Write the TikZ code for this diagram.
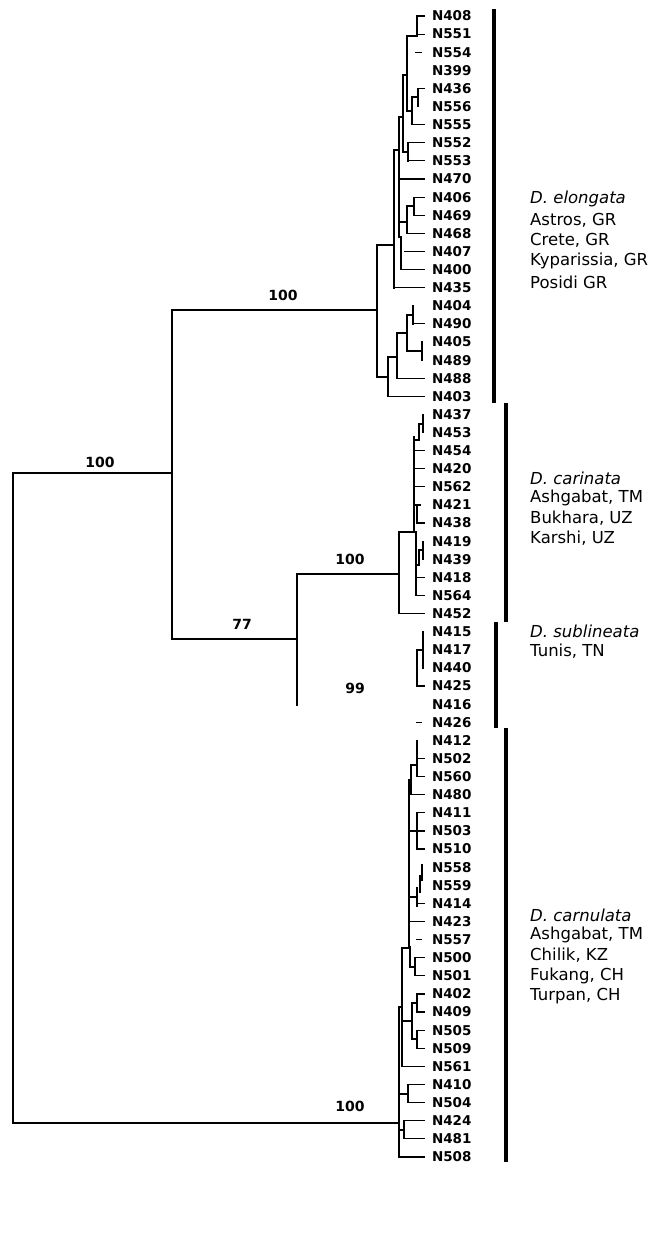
\documentclass[tikz,border=0pt]{standalone}
\usepackage{fontspec}
\setmainfont{DejaVu Sans}
\begin{document}
\begin{tikzpicture}[x=1pt,y=-1pt,
  br/.style={line width=1.2pt, line cap=rect},
  thk/.style={line width=2pt, line cap=rect},
  leaf/.style={anchor=west, inner xsep=8pt, inner ysep=0pt, outer sep=0pt, font=\bfseries\fontsize{13.5}{14}\selectfont},
  grp/.style={anchor=west, inner sep=0pt, font=\fontsize{16.5}{18}\selectfont},
  sup/.style={inner sep=0pt, font=\bfseries\fontsize{14}{16}\selectfont},
  bar/.style={line width=4.5pt}]
\useasboundingbox (0,0) rectangle (658,1236);
\fill[white] (0,0) rectangle (658,1236);
% leaves
\foreach \n [count=\i from 0] in {N408,N551,N554,N399,N436,N556,N555,N552,N553,N470,N406,N469,N468,N407,N400,N435,N404,N490,N405,N489,N488,N403,
 N437,N453,N454,N420,N562,N421,N438,N419,N439,N418,N564,N452,
 N415,N417,N440,N425,N416,N426,
 N412,N502,N560,N480,N411,N503,N510,N558,N559,N414,N423,N557,N500,N501,N402,N409,N505,N509,N561,N410,N504,N424,N481,N508}
  \node[leaf] (\n) at (424,{16+18.11*\i}) {\n};
\newcommand\tip[2]{\draw[br] (#2.west) -- ++(#1-424,0);}
% ---------- main backbone
\draw[br] (13,473) -- (13,1123);
\draw[br] (13,473) -- (172,473);
\draw[br] (172,310) -- (172,639);
\draw[br] (172,310) -- (377,310);
\draw[br] (172,639) -- (297,639);
\draw[br] (297,574) -- (297,705);
\draw[br] (297,574) -- (399,574);
\draw[br] (13,1123) -- (399,1123);
% ---------- D. elongata
\tip{417}{N408} \tip{417}{N551}
\draw[br] (417,16) -- (417,36) -- (407,36) -- (407,111) -- (412,111);
\draw[br] (416,52.2) -- (421,52.2);
\tip{418}{N436}
\draw[br] (418,88.4) -- (418,106.6);
\draw[br] (412,97) -- (418,97);
\draw[br] (412,97) -- (412,124.7);
\tip{412}{N555}
\draw[br] (403,75) -- (407,75);
\draw[br] (403,75) -- (403,152) -- (408,152);
\draw[br] (408,142.8) -- (408,160.9);
\tip{408}{N552} \tip{408}{N553}
\draw[br] (399,117) -- (403,117);
\draw[br] (399,117) -- (399,237);
\tip{399}{N470}
\draw[br] (414,197.1) -- (414,215.2);
\tip{414}{N406} \tip{414}{N469}
\draw[br] (407,206) -- (414,206);
\draw[br] (407,206) -- (407,233.3);
\tip{407}{N468}
\draw[br] (399,222) -- (407,222);
\draw[br] (399,237) -- (401,237) -- (401,269.5);
\tip{401}{N400}
\tip{405}{N407}
\draw[thk] (394,150) -- (394,287.7);
\draw[br] (394,150) -- (399,150);
\tip{394}{N435}
\draw[br] (377,245) -- (394,245);
\draw[br] (377,245) -- (377,377) -- (388,377);
\draw[br] (388,357) -- (388,396.3);
\tip{388}{N403}
\draw[br] (388,357) -- (397,357);
\draw[br] (397,333) -- (397,378.2);
\tip{397}{N488}
\draw[br] (397,333) -- (407,333);
\draw[br] (407,315) -- (407,351);
\draw[br] (407,315) -- (413,315);
\draw[br] (413,305.8) -- (413,323.9);
\tip{413}{N490}
\draw[br] (407,351) -- (422,351);
\draw[br] (422,342) -- (422,360.1);
% ---------- D. carinata
\draw[br] (423,414.4) -- (423,432.5);
\draw[br] (419,424) -- (423,424);
\draw[br] (419,424) -- (419,440) -- (414,440);
\draw[thk] (414,437) -- (414,532);
\tip{414}{N454} \tip{414}{N420} \tip{414}{N562}
\draw[br] (414,505) -- (420,505);
\draw[br] (417,507) -- (417,523.1);
\tip{417}{N438}
\draw[br] (399,532) -- (414,532);
\draw[br] (399,532) -- (399,613.6);
\tip{399}{N452}
\draw[br] (416,532) -- (416,595.5);
\tip{416}{N418} \tip{416}{N564}
\draw[br] (423,541.2) -- (423,559.3);
\draw[br] (419,550) -- (423,550);
\draw[br] (419,550) -- (419,565) -- (416,565);
% ---------- D. sublineata
\draw[br] (423,631.7) -- (423,668);
\draw[br] (417,649.9) -- (423,649.9);
\draw[br] (417,649.9) -- (417,686.1);
\tip{417}{N425}
\draw[br] (417,722.3) -- (421,722.3);
% ---------- D. carnulata
\draw[br] (417,740.4) -- (417,776.6);
\tip{417}{N502} \tip{417}{N560}
\draw[br] (411,765) -- (417,765);
\draw[br] (411,765) -- (411,794.7);
\tip{411}{N480}
\draw[br] (417,812.8) -- (417,849.1);
\tip{417}{N411} \tip{417}{N510}
\tip{409}{N503}
\draw[br] (409,780) -- (411,780);
\draw[thk] (409,780) -- (409,948);
\draw[br] (422,865) -- (422,880);
\draw[br] (420,876) -- (420,892);
\draw[br] (417,888) -- (417,906);
\tip{417}{N414}
\draw[br] (409,897) -- (417,897);
\tip{409}{N423}
\draw[br] (417,939.6) -- (421,939.6);
\draw[br] (415,957.7) -- (415,975.8);
\tip{415}{N500} \tip{415}{N501}
\draw[thk] (410,947) -- (410,967) -- (415,967);
\draw[br] (402,948) -- (410,948);
\draw[br] (402,948) -- (402,1066.4);
\tip{402}{N561}
\draw[br] (402,1021) -- (412,1021);
\draw[br] (412,1003) -- (412,1039);
\draw[br] (417,993.9) -- (417,1012.1);
\tip{417}{N402} \tip{417}{N409}
\draw[br] (412,1003) -- (417,1003);
\draw[br] (417,1030.2) -- (417,1048.3);
\tip{417}{N505} \tip{417}{N509}
\draw[br] (412,1039) -- (417,1039);
\draw[br] (399,1007) -- (402,1007);
\draw[thk] (399,1007) -- (399,1156.9);
\tip{399}{N508}
\draw[br] (408,1084.5) -- (408,1102.6);
\tip{408}{N410} \tip{408}{N504}
\draw[br] (399,1094) -- (408,1094);
\draw[br] (404,1120.7) -- (404,1138.8);
\tip{404}{N424} \tip{404}{N481}
\draw[br] (399,1130) -- (404,1130);
% ---------- support values
\node[sup] (s1) at (283,295) {100};
\node[sup] (s2) at (100,462) {100};
\node[sup] (s3) at (350,559) {100};
\node[sup] (s4) at (242,624) {77};
\node[sup] (s5) at (355,688) {99};
\node[sup] (s6) at (350,1106) {100};
% ---------- bars
\draw[bar] (494,9) -- (494,403);
\draw[bar] (506,403) -- (506,622);
\draw[bar] (496,622) -- (496,728);
\draw[bar] (506,728) -- (506,1162);
% ---------- group labels
\node[grp] (g1a) at (530,199) {\itshape D. elongata};
\node[grp] (g1b) at (530,220) {Astros, GR};
\node[grp] (g1c) at (530,240) {Crete, GR};
\node[grp] (g1d) at (530,261) {Kyparissia, GR};
\node[grp] (g1e) at (530,282) {Posidi GR};
\node[grp] (g2a) at (530,478) {\itshape D. carinata};
\node[grp] (g2b) at (530,498) {Ashgabat, TM};
\node[grp] (g2c) at (530,518) {Bukhara, UZ};
\node[grp] (g2d) at (530,538) {Karshi, UZ};
\node[grp] (g3a) at (530,631) {\itshape D. sublineata};
\node[grp] (g3b) at (530,651) {Tunis, TN};
\node[grp] (g4a) at (530,915) {\itshape D. carnulata};
\node[grp] (g4b) at (530,935) {Ashgabat, TM};
\node[grp] (g4c) at (530,955) {Chilik, KZ};
\node[grp] (g4d) at (530,976) {Fukang, CH};
\node[grp] (g4e) at (530,996) {Turpan, CH};
\end{tikzpicture}
\end{document}
